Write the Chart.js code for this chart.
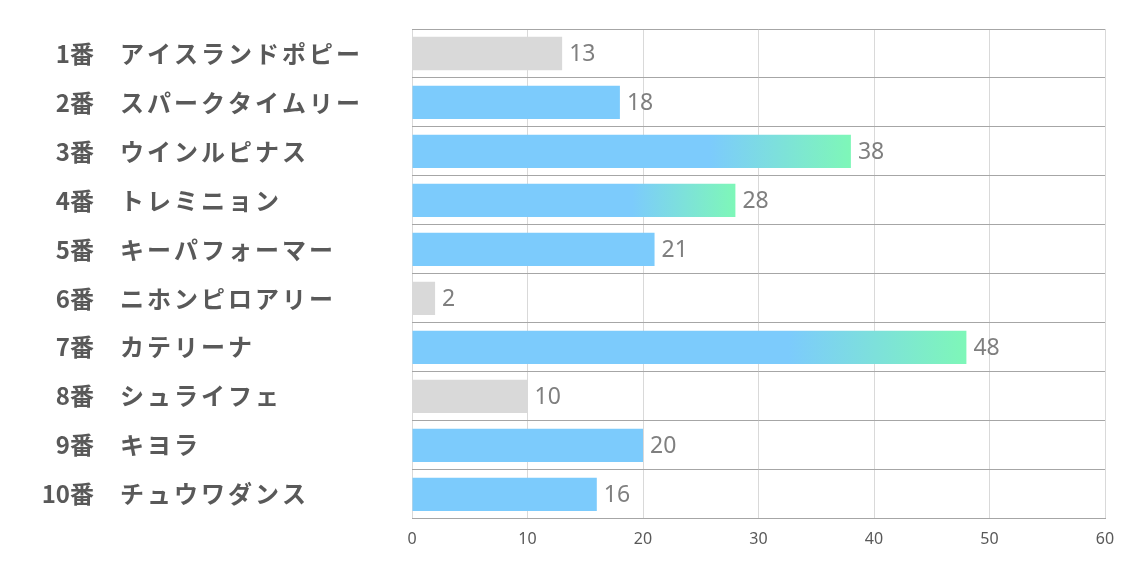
<!DOCTYPE html>
<html>
<head>
<meta charset="utf-8">
<script src="https://cdn.jsdelivr.net/npm/chart.js@4"></script>
<style>
  html, body { margin: 0; padding: 0; background: #fff; }
  #wrap { width: 1134px; height: 567px; }
</style>
</head>
<body>
<div id="wrap"><canvas id="chart"></canvas></div>
<script>
const horseNumbers = ["1番", "2番", "3番", "4番", "5番", "6番", "7番", "8番", "9番", "10番"];
const horseNames = ["アイスランドポピー", "スパークタイムリー", "ウインルピナス", "トレミニョン", "キーパフォーマー",
  "ニホンピロアリー", "カテリーナ", "シュライフェ", "キヨラ", "チュウワダンス"];
const scores = [13, 18, 38, 28, 21, 2, 48, 10, 20, 16];
const groups = ["low", "mid", "top", "top", "mid", "low", "top", "low", "mid", "mid"];
const xTicks = [0, 10, 20, 30, 40, 50, 60];

const GRAY = "#d9d9d9";
const BLUE = "#7ccbfc";
const GREEN = "#7ef7b8";

const barColor = (ctx) => {
  const g = groups[ctx.dataIndex];
  if (g === "low") return GRAY;
  if (g === "mid") return BLUE;
  const chart = ctx.chart;
  const area = chart.chartArea;
  if (!area) return BLUE;
  const x0 = chart.scales.x.getPixelForValue(0);
  const x1 = chart.scales.x.getPixelForValue(ctx.raw);
  const grad = chart.ctx.createLinearGradient(x0, 0, x1, 0);
  grad.addColorStop(0, BLUE);
  grad.addColorStop(0.68, BLUE);
  grad.addColorStop(1, GREEN);
  return grad;
};

// row labels on the left and value labels after each bar
const labelPlugin = {
  id: "labels",
  afterDatasetsDraw(chart) {
    const ctx = chart.ctx;
    const y = chart.scales.y;
    ctx.save();
    ctx.textBaseline = "middle";
    ctx.fillStyle = "#595959";
    horseNumbers.forEach((num, i) => {
      const py = y.getPixelForValue(i);
      ctx.font = "bold 24px 'Noto Sans CJK JP'";
      ctx.textAlign = "right";
      ctx.letterSpacing = "0px";
      ctx.fillText(num, 94, py);
      ctx.textAlign = "left";
      ctx.letterSpacing = "3px";
      ctx.fillText(horseNames[i], 120, py);
    });
    ctx.letterSpacing = "0px";
    const meta = chart.getDatasetMeta(0);
    ctx.font = "23px 'Noto Sans'";
    ctx.fillStyle = "#7f7f7f";
    ctx.textAlign = "left";
    meta.data.forEach((bar, i) => {
      ctx.fillText(String(scores[i]), bar.x + 7, bar.y + 1);
    });
    ctx.restore();
  }
};

new Chart(document.getElementById("chart"), {
  type: "bar",
  data: {
    labels: horseNames,
    datasets: [{
      data: scores,
      backgroundColor: barColor,
      borderWidth: 0,
      barPercentage: 0.68,
      categoryPercentage: 1
    }]
  },
  options: {
    indexAxis: "y",
    responsive: true,
    maintainAspectRatio: false,
    animation: false,
    layout: { padding: { left: 412, right: 29, top: 29, bottom: 7 } },
    plugins: { legend: { display: false }, tooltip: { enabled: false } },
    scales: {
      x: {
        min: 0,
        max: 60,
        z: 1,
        afterBuildTicks: (s) => { s.ticks = xTicks.map((v) => ({ value: v })); },
        grid: { color: "rgba(0,0,0,0.15)", drawTicks: false },
        border: { display: true, color: "#a6a6a6" },
        ticks: { color: "#595959", font: { size: 16, family: "'Noto Sans'" }, padding: 11 }
      },
      y: {
        grid: { color: "#a6a6a6", offset: true, drawTicks: false },
        border: { display: false },
        ticks: { display: false }
      }
    }
  },
  plugins: [labelPlugin]
});
</script>
</body>
</html>
